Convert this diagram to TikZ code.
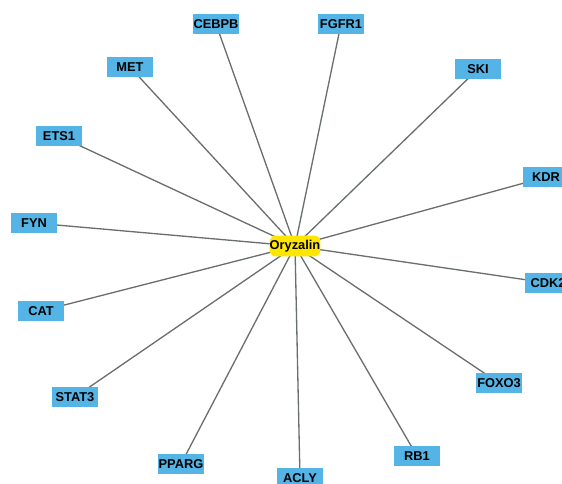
\documentclass[tikz,border=0pt]{standalone}
\usepackage{fontspec}
\setmainfont{Liberation Sans}
\usepackage{tikz}
\usetikzlibrary{backgrounds}
\definecolor{geneblu}{RGB}{84,180,230}
\definecolor{drugylw}{RGB}{255,230,0}
\definecolor{edgegry}{RGB}{105,110,110}
\tikzset{
  gene/.style={fill=geneblu, draw=none, minimum width=46\pxu, minimum height=21\pxu,
    inner sep=0pt, font=\fontsize{7.3}{8}\selectfont\bfseries},
  drug/.style={fill=drugylw, draw=none, rounded corners=6\pxu, minimum width=44\pxu,
    minimum height=21\pxu, inner sep=0pt, font=\fontsize{7.3}{8}\selectfont\bfseries},
  link/.style={draw=edgegry, line width=0.75pt}
}
\newcommand{\pxu}{pt*0.5669}
\begin{document}
\begin{tikzpicture}[x=0.02cm, y=-0.02cm]
        \clip (0,0) rectangle (562,484);
        \useasboundingbox (0,0) rectangle (562,484);
        % drug in the middle
        \node[drug] (oryz) at (295,246) {Oryzalin};
        % targets, clockwise from top
        \node[gene] (cebpb) at (216,24) {CEBPB};
        \node[gene] (fgfr1) at (341,24) {FGFR1};
        \node[gene] (ski) at (478,69) {SKI};
        \node[gene] (kdr) at (546,177) {KDR};
        \node[gene] (cdk2) at (548,283) {CDK2};
        \node[gene] (foxo3) at (499,383) {FOXO3};
        \node[gene] (rb1) at (417,456) {RB1};
        \node[gene] (acly) at (300,478) {ACLY};
        \node[gene] (pparg) at (181,464) {PPARG};
        \node[gene] (stat3) at (75,397) {STAT3};
        \node[gene] (cat) at (41,311) {CAT};
        \node[gene] (fyn) at (34,223) {FYN};
        \node[gene] (ets1) at (59,136) {ETS1};
        \node[gene] (met) at (130,67) {MET};
        % edges behind the boxes
        \begin{scope}[on background layer]
          \draw[link] (oryz.center) -- (cebpb.center);
          \draw[link] (oryz.center) -- (fgfr1.center);
          \draw[link] (oryz.center) -- (ski.center);
          \draw[link] (oryz.center) -- (kdr.center);
          \draw[link] (oryz.center) -- (cdk2.center);
          \draw[link] (oryz.center) -- (foxo3.center);
          \draw[link] (oryz.center) -- (rb1.center);
          \draw[link] (oryz.center) -- (acly.center);
          \draw[link] (oryz.center) -- (pparg.center);
          \draw[link] (oryz.center) -- (stat3.center);
          \draw[link] (oryz.center) -- (cat.center);
          \draw[link] (oryz.center) -- (fyn.center);
          \draw[link] (oryz.center) -- (ets1.center);
          \draw[link] (oryz.center) -- (met.center);
        \end{scope}
      \end{tikzpicture}
\end{document}
